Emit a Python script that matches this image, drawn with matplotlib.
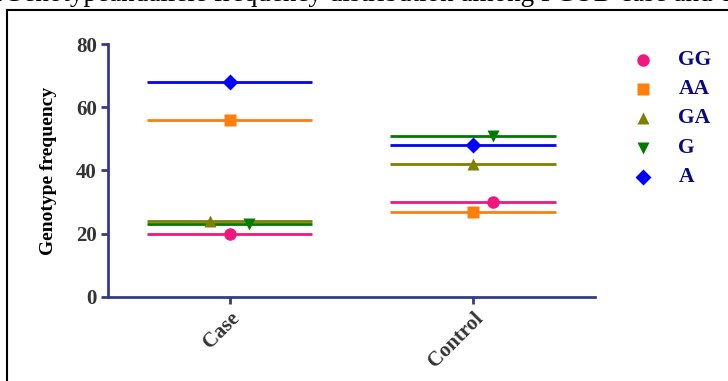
import matplotlib.pyplot as plt
from matplotlib.lines import Line2D

groups = ['Case', 'Control']
series = ['GG', 'AA', 'GA', 'G', 'A']
values = {
    'GG': [20, 30],
    'AA': [56, 27],
    'GA': [24, 42],
    'G': [23, 51],
    'A': [68, 48],
}
colors = {'GG': '#f0187f', 'AA': '#ff7f0e', 'GA': '#808000', 'G': '#007a00', 'A': '#0000ff'}
markers = {'GG': 'o', 'AA': 's', 'GA': '^', 'G': 'v', 'A': 'D'}
msizes = {'GG': 9, 'AA': 8, 'GA': 9, 'G': 9, 'A': 8}
# horizontal nudges of the markers so overlapping points stay visible
jitter = {'GG': [0, 0.08], 'AA': [0, 0], 'GA': [-0.08, 0], 'G': [0.08, 0.08], 'A': [0, 0]}

navy = '#353a87'
serif = 'Liberation Serif'

fig = plt.figure(figsize=(7.28, 3.81), dpi=100)
ax = fig.add_axes([0.1484, 0.2205, 0.6686, 0.664])

for s in series:
    for i, v in enumerate(values[s]):
        ax.hlines(v, i - 0.34, i + 0.34, color=colors[s], lw=2, zorder=2)
        ax.plot(i + jitter[s][i], v, marker=markers[s], color=colors[s], ms=msizes[s],
                mec='none', ls='none', zorder=3)

ax.set_xlim(-0.5, 1.5)
ax.set_ylim(0, 80)
ax.set_yticks([0, 20, 40, 60, 80])
ax.set_xticks([0, 1])
ax.set_xticklabels(groups, rotation=45, ha='right', rotation_mode='anchor')
for sp in ['top', 'right']:
    ax.spines[sp].set_visible(False)
for sp in ['left', 'bottom']:
    ax.spines[sp].set_color(navy)
    ax.spines[sp].set_linewidth(2)
ax.tick_params(colors=navy, width=2, length=5, pad=3)
for lab in ax.get_xticklabels() + ax.get_yticklabels():
    lab.set_fontfamily(serif)
    lab.set_fontweight('bold')
    lab.set_fontsize(15)
    lab.set_color('#333333')
ax.set_ylabel('Genotype frequency', fontfamily=serif, fontweight='bold', fontsize=14, labelpad=14)

# legend drawn outside the axes
for k, s in enumerate(series):
    y = 0.842 - k * 0.0765
    fig.add_artist(Line2D([0.8832], [y], marker=markers[s], color=colors[s], ms=msizes[s],
                          mec='none', ls='none', transform=fig.transFigure))
    fig.text(0.932, y, s, fontfamily=serif, fontweight='bold', fontsize=15.5,
             color='#0a0a80', va='center')

# page frame and clipped caption
fig.add_artist(Line2D([0.010, 0.010], [0, 0.974], color='black', lw=1.5, transform=fig.transFigure))
fig.add_artist(Line2D([0.010, 1.0], [0.974, 0.974], color='black', lw=1.5, transform=fig.transFigure))
fig.text(-0.004, 0.998, '.Genotypeandallele frequency distribution among PCOD case and c',
         fontfamily=serif, fontsize=19.5, va='baseline', ha='left')

fig.savefig('out.png', dpi=100)
